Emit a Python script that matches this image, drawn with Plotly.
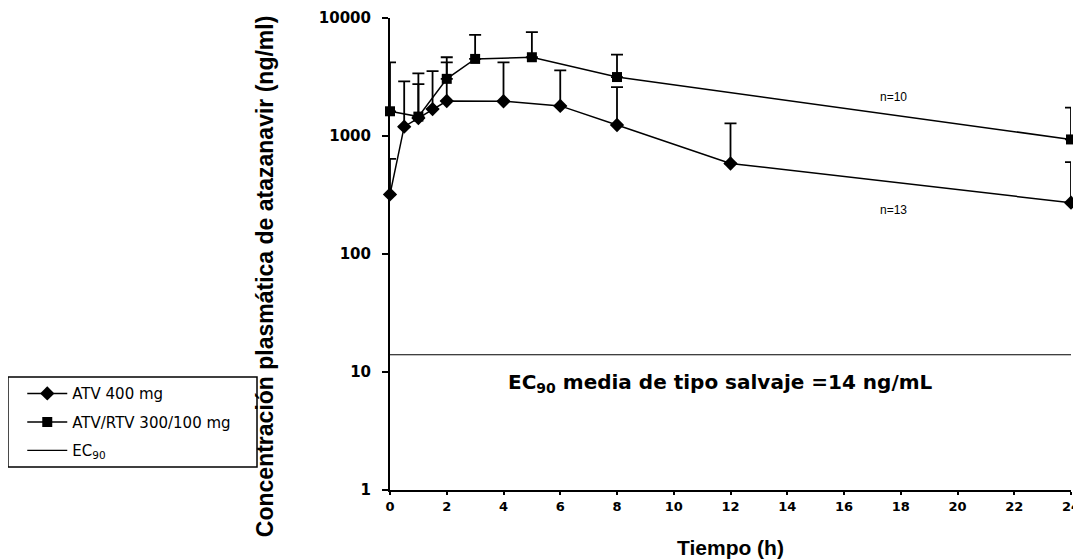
import plotly.graph_objects as go

# ATV 400 mg
t_atv = [0, 0.5, 1, 1.5, 2, 4, 6, 8, 12, 24]
c_atv = [320, 1200, 1420, 1690, 1980, 1970, 1800, 1240, 585, 272]
sd_atv = [320, 1700, 1330, 1860, 2220, 2230, 1800, 1360, 695, 328]

# ATV/RTV 300/100 mg
t_rtv = [0, 1, 2, 3, 5, 8, 24]
c_rtv = [1620, 1460, 3050, 4500, 4650, 3160, 935]
sd_rtv = [2580, 1940, 1600, 2700, 2950, 1740, 805]

ec90 = 14
ec90_t = [0, 24]

x_ticks = list(range(0, 25, 2))
y_ticks = [1, 10, 100, 1000, 10000]
y_tick_text = ["1", "10", "100", "1000", "10000"]

ARIAL = "Liberation Sans, Arial, sans-serif"
WIDE = "DejaVu Sans, Verdana, sans-serif"

fig = go.Figure()

fig.add_trace(go.Scatter(
    x=t_atv, y=c_atv, mode="lines+markers", name="ATV 400 mg",
    line=dict(color="black", width=1.5),
    marker=dict(symbol="diamond", size=11, color="black"),
    error_y=dict(type="data", array=sd_atv, arrayminus=[0] * len(sd_atv),
                 symmetric=False, color="black", thickness=1.8, width=6),
    cliponaxis=False, legendgroup="a",
))
fig.add_trace(go.Scatter(
    x=t_rtv, y=c_rtv, mode="lines+markers", name="ATV/RTV 300/100 mg",
    line=dict(color="black", width=1.5),
    marker=dict(symbol="square", size=10, color="black"),
    error_y=dict(type="data", array=sd_rtv, arrayminus=[0] * len(sd_rtv),
                 symmetric=False, color="black", thickness=1.8, width=6),
    cliponaxis=False, legendgroup="b",
))
fig.add_trace(go.Scatter(
    x=ec90_t, y=[ec90] * len(ec90_t), mode="lines", name="EC<sub>90</sub>",
    line=dict(color="black", width=1.2), cliponaxis=False, legendgroup="c",
))

fig.update_layout(
    width=1073, height=552,
    margin=dict(l=382, r=10, t=10, b=70, autoexpand=False),
    paper_bgcolor="white", plot_bgcolor="white",
    font=dict(family=ARIAL, color="black"),
    showlegend=True,
    legend=dict(
        x=-0.540, y=0.239, xanchor="left", yanchor="top",
        bgcolor="rgba(0,0,0,0)", borderwidth=0,
        font=dict(family=WIDE, size=15, color="black"),
        traceorder="grouped", tracegroupgap=6, itemwidth=40,
    ),
    xaxis=dict(
        range=[0, 24], tickvals=x_ticks, ticktext=[str(v) for v in x_ticks],
        showline=True, linecolor="black", linewidth=2, automargin=False,
        ticks="outside", ticklen=3, tickcolor="black", tickwidth=1.5,
        showgrid=False, zeroline=False,
        tickfont=dict(family=WIDE, size=13, color="black", weight="bold"),
    ),
    yaxis=dict(
        type="log", range=[0, 4], tickvals=y_ticks, ticktext=y_tick_text,
        showline=True, linecolor="black", linewidth=2, automargin=False,
        ticks="outside", ticklen=6, tickcolor="black", tickwidth=1.5,
        showgrid=False, zeroline=False, ticklabelstandoff=8,
        tickfont=dict(family=WIDE, size=15, color="black", weight="bold"),
    ),
    shapes=[dict(
        type="rect", xref="paper", yref="paper",
        x0=-0.561, x1=-0.1953, y0=0.0487, y1=0.2394,
        line=dict(color="black", width=1.5),
    )],
    annotations=[
        dict(text="Concentración plasmática de atazanavir (ng/ml)",
             xref="paper", yref="paper", x=-0.1836, y=0.453,
             xanchor="center", yanchor="middle",
             textangle=-90, showarrow=False,
             font=dict(family=ARIAL, size=23, color="black", weight="bold")),
        dict(text="Tiempo (h)", xref="paper", yref="paper",
             x=0.5007, y=-0.1208, showarrow=False,
             xanchor="center", yanchor="middle",
             font=dict(family=ARIAL, size=21, color="black", weight="bold")),
        dict(text="EC<sub>90</sub> media de tipo salvaje =14 ng/mL",
             xref="x", yref="paper", x=11.65, y=(490 - 383) / 472,
             showarrow=False, xanchor="center", yanchor="middle",
             font=dict(family=WIDE, size=20, color="black", weight="bold")),
        dict(text="n=10", xref="x", yref="y", x=17.75, y=3.33,
             showarrow=False, font=dict(family=ARIAL, size=12, color="black")),
        dict(text="n=13", xref="x", yref="y", x=17.75, y=2.37,
             showarrow=False, font=dict(family=ARIAL, size=12, color="black")),
    ],
)

fig.write_html("out.html")
